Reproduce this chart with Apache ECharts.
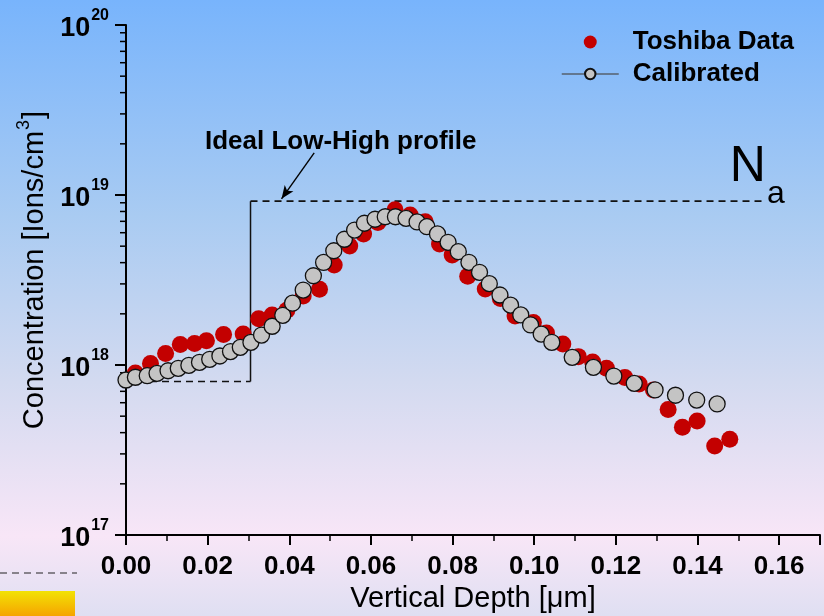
<!DOCTYPE html>
<html>
<head>
<meta charset="utf-8">
<script src="https://cdn.jsdelivr.net/npm/echarts@6/dist/echarts.min.js"></script>
<style>
  html, body { margin: 0; padding: 0; }
  #chart { width: 824px; height: 616px; }
</style>
</head>
<body>
<div id="chart"></div>
<script>
// Measured SIMS-style profile (Toshiba) — depth in µm, concentration in ions/cm^3
const toshibaDepth = [0.0023, 0.0060, 0.0097, 0.0133, 0.0168, 0.0197, 0.0239, 0.0287, 0.0325, 0.0358,
  0.0394, 0.0434, 0.0474, 0.0510, 0.0548, 0.0582, 0.0617, 0.0659, 0.0696, 0.0733,
  0.0768, 0.0799, 0.0837, 0.0880, 0.0917, 0.0953, 0.0998, 0.1030, 0.1070, 0.1108,
  0.1143, 0.1177, 0.1222, 0.1257, 0.1292, 0.1328, 0.1363, 0.1399, 0.1442, 0.1479];
const toshibaConc = [8.97e17, 1.02e18, 1.17e18, 1.32e18, 1.34e18, 1.39e18, 1.51e18, 1.52e18, 1.87e18, 1.97e18,
  2.10e18, 2.55e18, 2.79e18, 3.87e18, 5.01e18, 5.90e18, 6.89e18, 8.20e18, 7.63e18, 6.97e18,
  5.15e18, 4.44e18, 3.33e18, 2.80e18, 2.46e18, 1.94e18, 1.78e18, 1.54e18, 1.33e18, 1.12e18,
  1.04e18, 9.57e17, 8.44e17, 7.73e17, 7.13e17, 5.48e17, 4.30e17, 4.69e17, 3.34e17, 3.66e17];

// Calibrated simulation result
const calibratedDepth = [0.0000, 0.0023, 0.0052, 0.0076, 0.0103, 0.0128, 0.0154, 0.0180, 0.0205, 0.0230,
  0.0256, 0.0280, 0.0306, 0.0332, 0.0358, 0.0384, 0.0408, 0.0434, 0.0459, 0.0484,
  0.0509, 0.0535, 0.0560, 0.0584, 0.0610, 0.0635, 0.0660, 0.0686, 0.0713, 0.0737,
  0.0763, 0.0789, 0.0814, 0.0840, 0.0866, 0.0890, 0.0916, 0.0942, 0.0967, 0.0991,
  0.1017, 0.1043, 0.1093, 0.1145, 0.1195, 0.1245, 0.1296, 0.1346, 0.1398, 0.1448];
const calibratedConc = [8.16e17, 8.47e17, 8.65e17, 8.93e17, 9.25e17, 9.56e17, 9.96e17, 1.037e18, 1.08e18, 1.13e18,
  1.20e18, 1.27e18, 1.36e18, 1.50e18, 1.69e18, 1.96e18, 2.31e18, 2.76e18, 3.35e18, 4.01e18,
  4.70e18, 5.49e18, 6.22e18, 6.82e18, 7.20e18, 7.45e18, 7.45e18, 7.29e18, 6.94e18, 6.51e18,
  5.90e18, 5.27e18, 4.64e18, 4.02e18, 3.51e18, 3.01e18, 2.58e18, 2.25e18, 1.97e18, 1.72e18,
  1.52e18, 1.36e18, 1.11e18, 9.69e17, 8.61e17, 7.80e17, 7.13e17, 6.64e17, 6.22e17, 5.90e17];

// Ideal low-high step profile: start, step position, end (µm) and low / high levels (N_a)
const profileDepth = [0, 0.0305, 0.156];
const profileConc = [8.0e17, 9.2e18];

// Axis ranges and tick settings
const depthRange = [0, 0.17];
const depthStep = 0.02;
const concRange = [1e17, 1e20];
const concMinorTicks = [];
for (let e = 17; e < 20; e++) {
  for (let m = 2; m <= 9; m++) concMinorTicks.push(m * Math.pow(10, e));
}

// Annotation anchors (data coordinates)
const profileLabel = { name: 'Ideal Low-High profile', coord: [0.0526, 2.05e19] };
const profileArrow = [[0.0461, 1.77e19], [0.0381, 9.5e18]];
const naLabel = { coord: [0.1523, 1.45e19] };
const naSub = { coord: [0.1592, 1.01e19] };

const FONT = '"Liberation Sans", Arial, sans-serif';

const chart = echarts.init(document.getElementById('chart'), null, { renderer: 'canvas' });

const zip = (a, b) => a.map((v, i) => [v, b[i]]);

const option = {
  animation: false,
  backgroundColor: new echarts.graphic.LinearGradient(0, 0, 0, 1, [
    { offset: 0, color: '#78b4fc' },
    { offset: 0.35, color: '#a9cbf2' },
    { offset: 0.62, color: '#d3daf0' },
    { offset: 0.87, color: '#f8e6f7' },
    { offset: 1, color: '#dfdff2' }
  ]),
  textStyle: { fontFamily: FONT },
  grid: { left: 126, top: 25, right: 4, bottom: 81, containLabel: false, outerBoundsMode: 'none' },
  legend: {
    orient: 'vertical',
    left: 556,
    top: 24,
    itemWidth: 57,
    itemHeight: 13,
    itemGap: 6,
    selectedMode: false,
    textStyle: { fontFamily: FONT, fontSize: 26, fontWeight: 'bold', color: '#000', lineHeight: 26, padding: [0, 0, 0, 9] },
    data: [
      { name: 'Toshiba Data', icon: 'circle' },
      { name: 'Calibrated', lineStyle: { color: '#56606c', width: 1.5, opacity: 1 } }
    ]
  },
  xAxis: {
    type: 'value',
    min: depthRange[0],
    max: depthRange[1],
    interval: depthStep,
    name: 'Vertical Depth [\u03bcm]',
    nameLocation: 'middle',
    nameGap: 35,
    nameTextStyle: { fontFamily: FONT, fontSize: 29, color: '#000' },
    axisLine: { onZero: false, lineStyle: { color: '#000', width: 2 } },
    axisTick: { show: true, inside: false, length: 10, lineStyle: { color: '#000', width: 2 } },
    minorTick: { show: true, splitNumber: 2, length: 6, lineStyle: { color: '#000', width: 1.5 } },
    splitLine: { show: false },
    axisLabel: {
      margin: 19,
      showMaxLabel: false,
      fontFamily: FONT, fontSize: 26, fontWeight: 'bold', color: '#000',
      formatter: v => v.toFixed(2)
    }
  },
  yAxis: {
    type: 'log',
    logBase: 10,
    min: concRange[0],
    max: concRange[1],
    name: '{t|Concentration [Ions/cm}{s|3}{t|]}',
    nameLocation: 'middle',
    nameGap: 71,
    nameTextStyle: {
      padding: [0, 0, 0, 20],
      rich: {
        t: { fontFamily: FONT, fontSize: 29, color: '#000', verticalAlign: 'bottom', lineHeight: 30 },
        s: { fontFamily: FONT, fontSize: 18, color: '#000', verticalAlign: 'bottom', lineHeight: 18, padding: [0, 1, 16, 1] }
      }
    },
    axisLine: { lineStyle: { color: '#000', width: 2 } },
    axisTick: { show: true, inside: false, length: 11, lineStyle: { color: '#000', width: 2 } },
    splitLine: { show: false },
    axisLabel: {
      margin: 17,
      padding: [14, 0, 0, 0],
      formatter: v => '{b|10}{s|' + Math.round(Math.log10(v)) + '}',
      rich: {
        b: { fontFamily: FONT, fontSize: 27, fontWeight: 'bold', color: '#000', verticalAlign: 'bottom', lineHeight: 26, padding: [17, 0, 3, 0] },
        s: { fontFamily: FONT, fontSize: 16, fontWeight: 'bold', color: '#000', verticalAlign: 'bottom', lineHeight: 16, padding: [0, 0, 21, 1] }
      }
    }
  },
  graphic: [
    { type: 'line', silent: true, shape: { x1: 0, y1: 573, x2: 77, y2: 573 }, style: { stroke: '#222', lineWidth: 1.2, lineDash: [7, 5] } },
    {
      type: 'rect', silent: true, shape: { x: 0, y: 591, width: 75, height: 25 },
      style: { fill: new echarts.graphic.LinearGradient(0, 0, 0, 1, [
        { offset: 0, color: '#f2e205' }, { offset: 1, color: '#f6a400' }
      ]) }
    }
  ],
  series: [
    {
      name: 'profileLow', type: 'line', silent: true, symbol: 'none', z: 3,
      data: [[profileDepth[0], profileConc[0]], [profileDepth[1], profileConc[0]]],
      lineStyle: { color: '#111', width: 1.6, type: [7, 5] }
    },
    {
      name: 'profileStep', type: 'line', silent: true, symbol: 'none', z: 3,
      data: [[profileDepth[1], profileConc[0]], [profileDepth[1], profileConc[1]]],
      lineStyle: { color: '#111', width: 1.5, type: 'solid' }
    },
    {
      name: 'profileHigh', type: 'line', silent: true, symbol: 'none', z: 3,
      data: [[profileDepth[1], profileConc[1]], [profileDepth[2], profileConc[1]]],
      lineStyle: { color: '#111', width: 1.6, type: [7, 5] },
      markLine: {
        silent: true,
        symbol: ['none', 'arrow'],
        symbolSize: [8, 13],
        lineStyle: { color: '#000', width: 1.4, type: 'solid' },
        label: { show: false },
        data: [[{ coord: profileArrow[0] }, { coord: profileArrow[1] }]]
      },
      markPoint: {
        silent: true,
        symbol: 'circle',
        symbolSize: 1,
        itemStyle: { color: 'rgba(0,0,0,0)' },
        label: { show: true, position: 'inside', formatter: '{b}', color: '#000', fontFamily: FONT },
        data: [
          { name: profileLabel.name, coord: profileLabel.coord, label: { fontSize: 26, fontWeight: 'bold' } },
          { name: 'N', coord: naLabel.coord, label: { fontSize: 50 } },
          { name: 'a', coord: naSub.coord, label: { fontSize: 32 } }
        ]
      }
    },
    {
      name: 'yMinorTicks', type: 'custom', silent: true, z: 4,
      data: concMinorTicks.map(v => [depthRange[0], v]),
      renderItem: (params, api) => {
        const p = api.coord([api.value(0), api.value(1)]);
        return { type: 'line', shape: { x1: p[0] - 6, y1: p[1], x2: p[0], y2: p[1] }, style: { stroke: '#000', lineWidth: 1.5 } };
      }
    },
    {
      name: 'Toshiba Data', type: 'scatter', z: 5,
      symbol: 'circle', symbolSize: 17,
      itemStyle: { color: '#c30000', opacity: 1 },
      data: zip(toshibaDepth, toshibaConc)
    },
    {
      name: 'Calibrated', type: 'line', z: 6,
      symbol: 'circle', symbolSize: 16, showAllSymbol: true,
      lineStyle: { opacity: 0 },
      itemStyle: { color: '#c4c4c4', borderColor: '#111', borderWidth: 1.3 },
      data: zip(calibratedDepth, calibratedConc)
    }
  ]
};

chart.setOption(option);
</script>
</body>
</html>
